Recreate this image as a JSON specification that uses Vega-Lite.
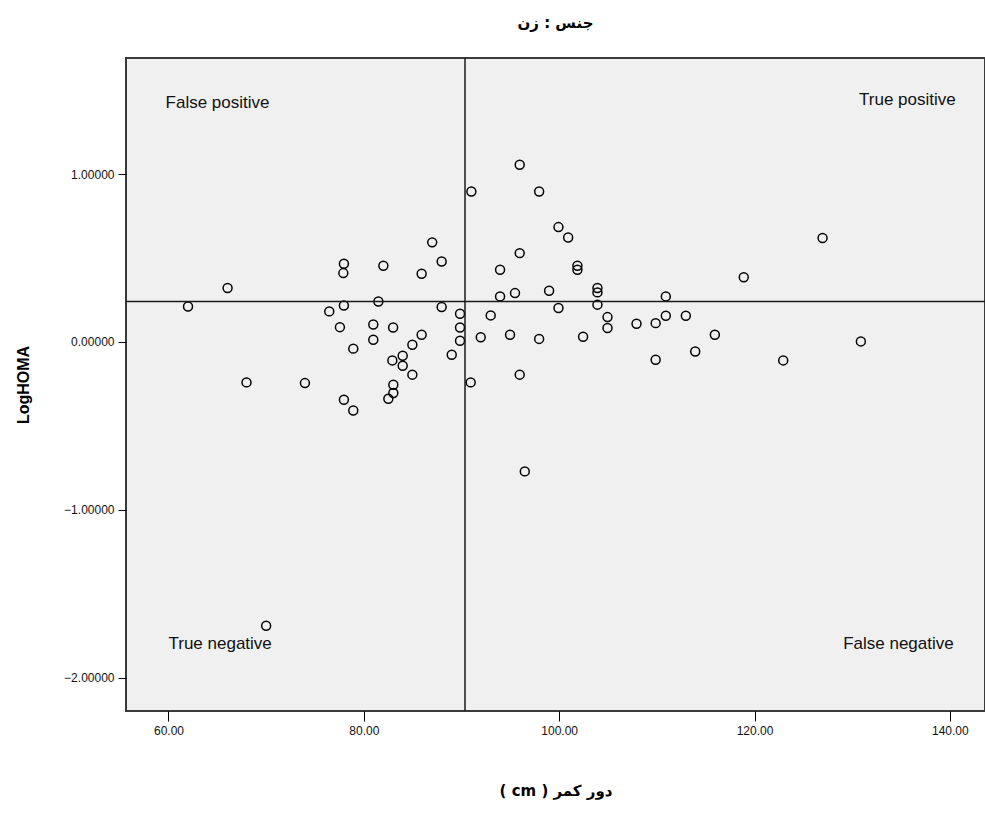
{
  "$schema": "https://vega.github.io/schema/vega-lite/v6.json",
  "autosize": {"type": "none"},
  "width": 859,
  "height": 653,
  "padding": {"left": 126, "top": 58, "right": 0, "bottom": 127},
  "background": "#ffffff",
  "config": {
    "view": {"fill": "#f0f0f0", "stroke": "#3a3a3a", "strokeWidth": 2},
    "font": "Liberation Sans"
  },
  "title": {
    "text": "جنس : زن",
    "font": "DejaVu Sans",
    "fontSize": 15,
    "fontWeight": "bold",
    "color": "#000000",
    "anchor": "middle",
    "offset": 26
  },
  "datasets": {
    "points": [
      {"waist": 62.0, "loghoma": 0.211},
      {"waist": 66.05, "loghoma": 0.321},
      {"waist": 67.99, "loghoma": -0.241},
      {"waist": 70.0, "loghoma": -1.69},
      {"waist": 73.97, "loghoma": -0.245},
      {"waist": 76.46, "loghoma": 0.182},
      {"waist": 77.55, "loghoma": 0.088},
      {"waist": 77.96, "loghoma": 0.466},
      {"waist": 77.9, "loghoma": 0.41},
      {"waist": 77.96, "loghoma": 0.217},
      {"waist": 77.96, "loghoma": -0.344},
      {"waist": 78.92, "loghoma": -0.04},
      {"waist": 78.92, "loghoma": -0.408},
      {"waist": 80.97, "loghoma": 0.104},
      {"waist": 80.97, "loghoma": 0.013},
      {"waist": 81.49, "loghoma": 0.241},
      {"waist": 82.0, "loghoma": 0.454},
      {"waist": 83.0, "loghoma": 0.086},
      {"waist": 82.92, "loghoma": -0.11},
      {"waist": 83.02, "loghoma": -0.255},
      {"waist": 83.02, "loghoma": -0.304},
      {"waist": 82.51, "loghoma": -0.338},
      {"waist": 83.98, "loghoma": -0.082},
      {"waist": 83.98, "loghoma": -0.142},
      {"waist": 84.97, "loghoma": -0.017},
      {"waist": 84.97, "loghoma": -0.195},
      {"waist": 85.92, "loghoma": 0.406},
      {"waist": 85.92, "loghoma": 0.043},
      {"waist": 87.0, "loghoma": 0.593},
      {"waist": 87.97, "loghoma": 0.479},
      {"waist": 87.97, "loghoma": 0.208},
      {"waist": 89.0, "loghoma": -0.076},
      {"waist": 89.85, "loghoma": 0.168},
      {"waist": 89.85, "loghoma": 0.086},
      {"waist": 89.85, "loghoma": 0.007},
      {"waist": 91.01, "loghoma": 0.896},
      {"waist": 90.94, "loghoma": -0.241},
      {"waist": 91.97, "loghoma": 0.028},
      {"waist": 92.99, "loghoma": 0.158},
      {"waist": 93.95, "loghoma": 0.43},
      {"waist": 93.95, "loghoma": 0.271},
      {"waist": 94.97, "loghoma": 0.043},
      {"waist": 95.48, "loghoma": 0.291},
      {"waist": 95.96, "loghoma": 1.055},
      {"waist": 95.96, "loghoma": 0.529},
      {"waist": 95.96, "loghoma": -0.195},
      {"waist": 96.48, "loghoma": -0.771},
      {"waist": 97.95, "loghoma": 0.896},
      {"waist": 97.95, "loghoma": 0.018},
      {"waist": 98.97, "loghoma": 0.305},
      {"waist": 99.93, "loghoma": 0.684},
      {"waist": 99.93, "loghoma": 0.202},
      {"waist": 100.92, "loghoma": 0.622},
      {"waist": 101.87, "loghoma": 0.454},
      {"waist": 101.87, "loghoma": 0.43},
      {"waist": 102.45, "loghoma": 0.031},
      {"waist": 103.92, "loghoma": 0.321},
      {"waist": 103.92, "loghoma": 0.295},
      {"waist": 103.92, "loghoma": 0.222},
      {"waist": 104.95, "loghoma": 0.148},
      {"waist": 104.95, "loghoma": 0.083},
      {"waist": 107.92, "loghoma": 0.108},
      {"waist": 109.88, "loghoma": 0.112},
      {"waist": 109.88, "loghoma": -0.106},
      {"waist": 110.92, "loghoma": 0.271},
      {"waist": 110.92, "loghoma": 0.156},
      {"waist": 112.97, "loghoma": 0.156},
      {"waist": 113.93, "loghoma": -0.057},
      {"waist": 115.94, "loghoma": 0.043},
      {"waist": 118.9, "loghoma": 0.385},
      {"waist": 122.94, "loghoma": -0.11},
      {"waist": 126.97, "loghoma": 0.619},
      {"waist": 130.89, "loghoma": 0.003}
    ],
    "vline": [{"cut": 90.36}],
    "hline": [{"cut": 0.241}],
    "notesLeft": [
      {"label": "False positive", "waist": 59.7, "loghoma": 1.424},
      {"label": "True negative", "waist": 60.0, "loghoma": -1.80}
    ],
    "notesRight": [
      {"label": "True positive", "waist": 140.6, "loghoma": 1.442},
      {"label": "False negative", "waist": 140.4, "loghoma": -1.80}
    ]
  },
  "layer": [
    {
      "data": {"name": "points"},
      "mark": {"type": "point", "shape": "circle", "filled": false, "stroke": "#000000", "strokeWidth": 1.5, "size": 80, "opacity": 1},
      "encoding": {
        "x": {
          "field": "waist", "type": "quantitative",
          "scale": {"domain": [55.65, 143.6], "nice": false, "zero": false},
          "axis": {
            "values": [60, 80, 100, 120, 140], "format": ".2f", "grid": false, "domain": false,
            "tickSize": 10, "tickColor": "#000000", "tickWidth": 1,
            "labelFont": "Liberation Sans", "labelFontSize": 12, "labelColor": "#111111", "labelPadding": 4,
            "title": "\u202bدور کمر ( cm )\u202c",
            "titleFont": "DejaVu Sans", "titleFontSize": 15, "titleFontWeight": "bold", "titleColor": "#000000",
            "titleY": 79, "titleBaseline": "middle"
          }
        },
        "y": {
          "field": "loghoma", "type": "quantitative",
          "scale": {"domain": [-2.198, 1.691], "nice": false, "zero": false},
          "axis": {
            "values": [1, 0, -1, -2], "format": ".5f", "grid": false, "domain": false,
            "tickSize": 8, "tickColor": "#000000", "tickWidth": 1,
            "labelFont": "Liberation Sans", "labelFontSize": 12, "labelColor": "#111111", "labelPadding": 4,
            "title": "LogHOMA",
            "titleFont": "Liberation Sans", "titleFontSize": 16, "titleFontWeight": "bold", "titleColor": "#000000",
            "titleX": -103, "titleY": 326.5, "titleAlign": "center", "titleBaseline": "middle", "titleAngle": -90
          }
        }
      }
    },
    {
      "data": {"name": "vline"},
      "mark": {"type": "rule", "color": "#1a1a1a", "strokeWidth": 1.5},
      "encoding": {"x": {"field": "cut", "type": "quantitative"}}
    },
    {
      "data": {"name": "hline"},
      "mark": {"type": "rule", "color": "#1a1a1a", "strokeWidth": 1.5},
      "encoding": {"y": {"field": "cut", "type": "quantitative"}}
    },
    {
      "data": {"name": "notesLeft"},
      "mark": {"type": "text", "align": "left", "baseline": "middle", "font": "Liberation Sans", "fontSize": 17, "color": "#111111"},
      "encoding": {
        "x": {"field": "waist", "type": "quantitative"},
        "y": {"field": "loghoma", "type": "quantitative"},
        "text": {"field": "label"}
      }
    },
    {
      "data": {"name": "notesRight"},
      "mark": {"type": "text", "align": "right", "baseline": "middle", "font": "Liberation Sans", "fontSize": 17, "color": "#111111"},
      "encoding": {
        "x": {"field": "waist", "type": "quantitative"},
        "y": {"field": "loghoma", "type": "quantitative"},
        "text": {"field": "label"}
      }
    }
  ]
}
